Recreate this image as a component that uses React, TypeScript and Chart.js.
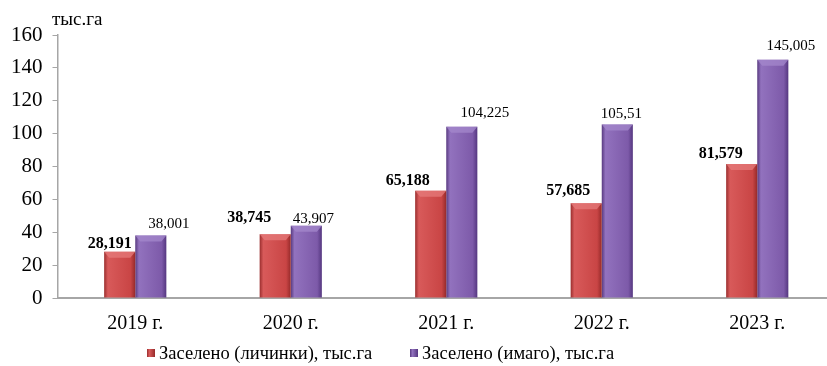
import React, { useEffect, useRef } from "react";
import { Chart, registerables } from "chart.js";

Chart.register(...registerables);

const categories = ["2019 г.", "2020 г.", "2021 г.", "2022 г.", "2023 г."];
const larvae = [28.191, 38.745, 65.188, 57.685, 81.579];
const imago = [38.001, 43.907, 104.225, 105.51, 145.005];
const larvaeLabels = ["28,191", "38,745", "65,188", "57,685", "81,579"];
const imagoLabels = ["38,001", "43,907", "104,225", "105,51", "145,005"];
const seriesNames = ["Заселено (личинки), тыс.га", "Заселено (имаго), тыс.га"];
const yTitle = "тыс.га";

const FONT = "'Liberation Serif', 'Times New Roman', Times, serif";

// label nudges (style only)
const redDx = [-10, -26, -23, -18, -21];
const redDy = [-4, -12, -6, -8, -6];
const purDx = [18, 7, 23, 4, 18];
const purDy = [-8, -3, -10, -7, -10];

const palettes = [
  ["#9a2e2e", "#d85a5a", "#c94545", "#962a2a", "#e57b7b"],
  ["#583a80", "#9272be", "#7d5aa9", "#553780", "#a488cc"],
];

const bevelPlugin = {
  id: "bevel",
  beforeDatasetsDraw(chart: any) {
    const ctx = chart.ctx;
    chart.data.datasets.forEach((_: any, di: number) => {
      const meta = chart.getDatasetMeta(di);
      const p = palettes[di];
      meta.data.forEach((bar: any) => {
        const w = bar.width;
        const g = ctx.createLinearGradient(bar.x - w / 2, 0, bar.x + w / 2, 0);
        g.addColorStop(0, p[0]);
        g.addColorStop(0.12, p[1]);
        g.addColorStop(0.85, p[2]);
        g.addColorStop(1, p[3]);
        bar.options = Object.assign({}, bar.options, { backgroundColor: g, borderWidth: 0 });
      });
    });
  },
  afterDatasetsDraw(chart: any) {
    const ctx = chart.ctx;
    ctx.save();
    chart.data.datasets.forEach((_: any, di: number) => {
      const meta = chart.getDatasetMeta(di);
      const p = palettes[di];
      meta.data.forEach((bar: any) => {
        const w = bar.width;
        const l = bar.x - w / 2;
        const r = bar.x + w / 2;
        const t = bar.y;
        const h = 6;
        ctx.fillStyle = p[4];
        ctx.globalAlpha = 0.75;
        ctx.beginPath();
        ctx.moveTo(l, t);
        ctx.lineTo(r, t);
        ctx.lineTo(r - 5, t + h);
        ctx.lineTo(l + 5, t + h);
        ctx.closePath();
        ctx.fill();
      });
    });
    ctx.restore();
  },
};

const labelPlugin = {
  id: "valueLabels",
  afterDraw(chart: any) {
    const ctx = chart.ctx;
    ctx.save();
    ctx.fillStyle = "#000";
    ctx.textAlign = "center";
    ctx.textBaseline = "alphabetic";
    const m0 = chart.getDatasetMeta(0);
    const m1 = chart.getDatasetMeta(1);
    m0.data.forEach((bar: any, i: number) => {
      ctx.font = `bold 16px ${FONT}`;
      ctx.fillText(larvaeLabels[i], bar.x + redDx[i], bar.y + redDy[i]);
    });
    m1.data.forEach((bar: any, i: number) => {
      ctx.font = `15px ${FONT}`;
      ctx.fillText(imagoLabels[i], bar.x + purDx[i], bar.y + purDy[i]);
    });
    // axis title
    ctx.font = `19px ${FONT}`;
    ctx.textAlign = "left";
    ctx.fillText(yTitle, 52, 25);
    // legend
    ctx.font = `18.5px ${FONT}`;
    const starts = [147, 410];
    starts.forEach((x0, i) => {
      const p = palettes[i];
      const g = ctx.createLinearGradient(x0, 0, x0 + 8, 0);
      g.addColorStop(0, p[0]);
      g.addColorStop(0.3, p[1]);
      g.addColorStop(1, p[3]);
      ctx.fillStyle = g;
      ctx.fillRect(x0, 349, 8, 8);
      ctx.fillStyle = "#000";
      ctx.fillText(seriesNames[i], x0 + 12, 359);
    });
    ctx.restore();
  },
};

export default function App() {
  const ref = useRef<HTMLCanvasElement>(null);
  useEffect(() => {
    document.body.style.margin = "0";
    document.body.style.overflow = "hidden";
    document.documentElement.style.overflow = "hidden";
    const chart = new Chart(ref.current!, {
      type: "bar",
      data: {
        labels: categories,
        datasets: [
          {
            label: seriesNames[0],
            data: larvae,
            backgroundColor: "#c94545",
            barPercentage: 1,
            categoryPercentage: 0.4,
          },
          {
            label: seriesNames[1],
            data: imago,
            backgroundColor: "#7d5aa9",
            barPercentage: 1,
            categoryPercentage: 0.4,
          },
        ],
      },
      options: {
        animation: false,
        responsive: false,
        layout: { padding: { top: 35, right: 5, left: 1, bottom: 24 } },
        plugins: {
          legend: { display: false },
          tooltip: { enabled: false },
        },
        scales: {
          x: {
            grid: { display: false },
            border: { color: "#a6a6a6", width: 2 },
            ticks: { color: "#000", font: { family: FONT, size: 20 }, padding: 6 },
          },
          y: {
            min: 0,
            max: 160,
            grid: { drawOnChartArea: false, color: "#a6a6a6", tickLength: 5 },
            border: { color: "#a6a6a6", width: 1.5 },
            ticks: { stepSize: 20, color: "#000", font: { family: FONT, size: 21 }, padding: 10 },
          },
        },
      },
      plugins: [bevelPlugin, labelPlugin],
    });
    return () => chart.destroy();
  }, []);
  return (
    <div style={{ width: 827, height: 366, overflow: "hidden" }}>
      <canvas ref={ref} width={840} height={366} style={{ display: "block" }} />
    </div>
  );
}
